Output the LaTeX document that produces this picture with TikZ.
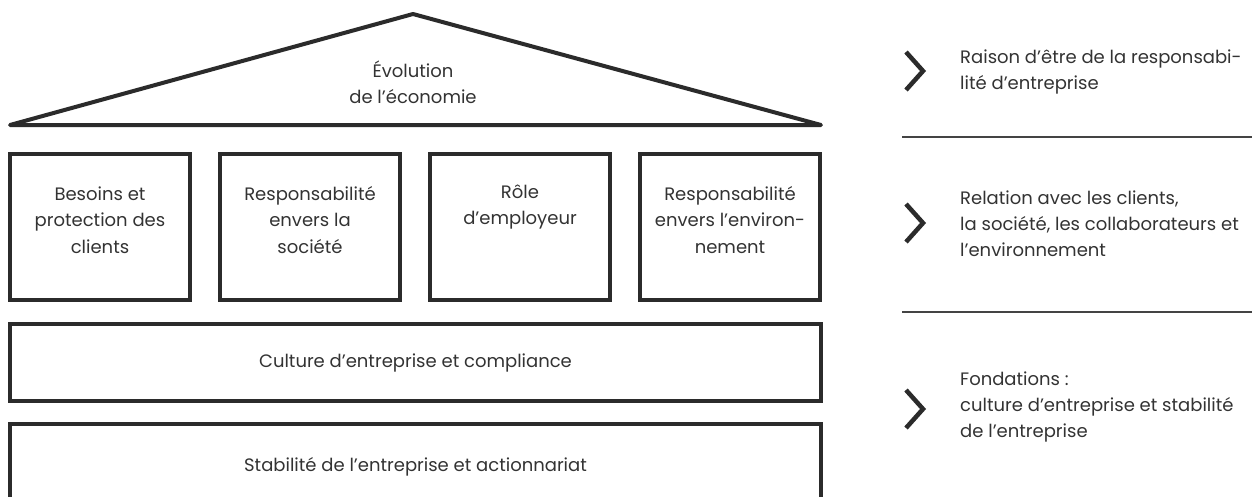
\documentclass[tikz,border=0pt]{standalone}
\usepackage{fontspec}
\setmainfont{Poppins}
\definecolor{ink}{HTML}{2B2B2B}
\definecolor{txtc}{HTML}{333333}
\definecolor{sepc}{HTML}{444444}
\begin{document}
\begin{tikzpicture}[x=1pt,y=-1pt,
  frame/.style={draw=ink, line width=4pt},
  pillar/.style={frame, rectangle, minimum width=180pt, minimum height=146pt, inner sep=0pt},
  band/.style={frame, rectangle, minimum width=811pt, inner sep=0pt},
  txt/.style={text=txtc, font=\fontsize{18}{26.5}\selectfont, align=center, inner sep=0pt},
  rtxt/.style={text=txtc, font=\fontsize{18}{26}\selectfont, align=left, inner sep=0pt, anchor=west},
  sepline/.style={draw=sepc, line width=1.3pt},
  chev/.style={draw=ink, line width=4.5pt, line join=miter}
]
\useasboundingbox (0,0) rectangle (1257,496);
\clip (0,0) rectangle (1257,496);
\fill[white] (0,0) rectangle (1257,496);
% roof
\coordinate (rl) at (10,125);
\coordinate (rt) at (413,14);
\coordinate (rr) at (821,125);
\draw[frame, line join=round, line cap=round] (rl) -- (rt) -- (rr) -- cycle;
\node[txt] (roof) at (413,82) {Évolution\\de l’économie};
% pillars
\node[pillar] (p1) at (100,227) {};
\node[pillar] (p2) at (310,227) {};
\node[pillar] (p3) at (520,227) {};
\node[pillar] (p4) at (730,227) {};
\node[txt] (t1) at (100,220) {Besoins et\\protection des\\clients};
\node[txt] (t2) at (310,220) {Responsabilité\\envers la\\société};
\node[txt] (t3) at (520,207) {Rôle\\d’employeur};
\node[txt] (t4) at (730,220) {Responsabilité\\envers l’environ-\\nement};
% bands
\node[band, minimum height=77pt] (b1) at (415.5,362.5) {};
\node[txt] (bt1) at (b1.center) {Culture d’entreprise et compliance};
\node[band, minimum height=86pt] (b2) at (415.5,467) {};
\node[txt] (bt2) at (b2.center) {Stabilité de l’entreprise et actionnariat};
% right column
\coordinate (s1a) at (902,137);
\coordinate (s1b) at (1252,137);
\coordinate (s2a) at (902,312);
\coordinate (s2b) at (1252,312);
\draw[sepline] (s1a) -- (s1b);
\draw[sepline] (s2a) -- (s2b);
\draw[chev] (906,52) -- (923,71) -- (906,90);
\draw[chev] (906,204) -- (923,223) -- (906,242);
\draw[chev] (906,390) -- (923,409) -- (906,428);
\node[rtxt] (r1) at (960,72) {Raison d’être de la responsabi-\\lité d’entreprise};
\node[rtxt] (r2) at (960,224) {Relation avec les clients,\\la société, les collaborateurs et\\l’environnement};
\node[rtxt] (r3) at (960,407) {Fondations :\\culture d’entreprise et stabilité\\de l’entreprise};
\end{tikzpicture}
\end{document}
